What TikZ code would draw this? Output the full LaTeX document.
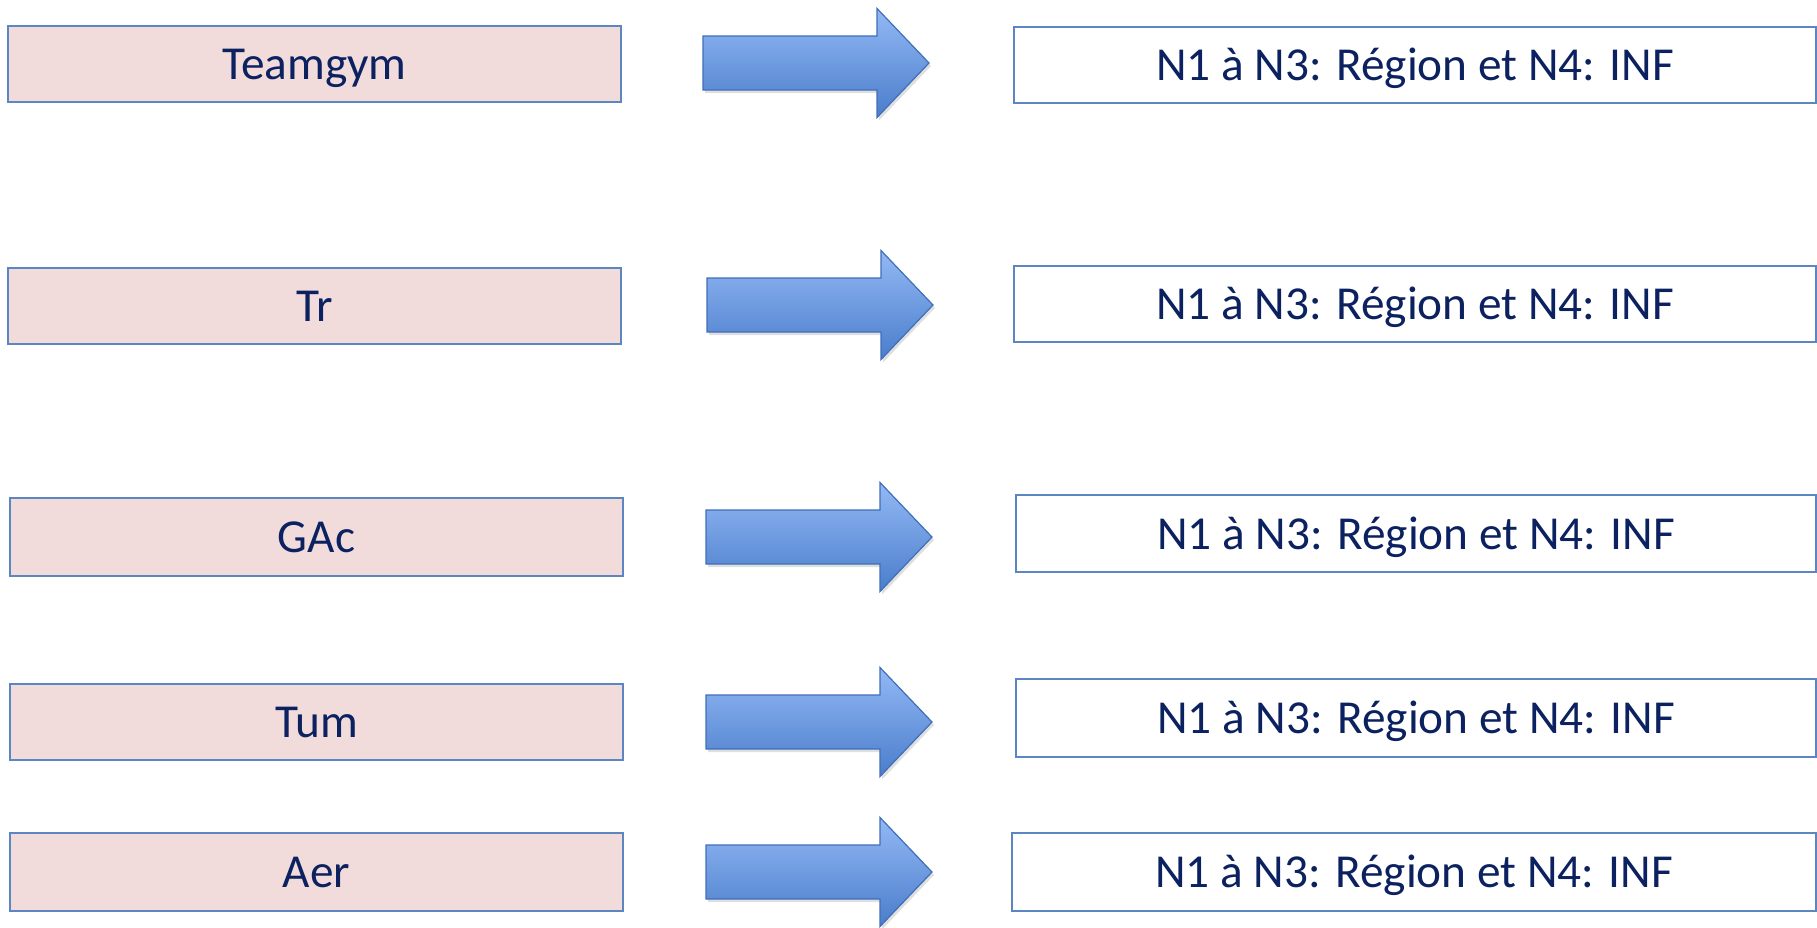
\documentclass[tikz,border=0pt]{standalone}
\usepackage{fontspec}
\setmainfont{Carlito}
\usetikzlibrary{shadows}
\definecolor{boxline}{HTML}{5B86C2}
\definecolor{pinkfill}{HTML}{F2DCDB}
\definecolor{txt}{HTML}{0B2160}
\definecolor{arrtop}{HTML}{93B9F5}
\definecolor{arrbot}{HTML}{4A7DCB}
\definecolor{arrline}{HTML}{3F6FB8}
\tikzset{
  srcbox/.style={draw=boxline, line width=1.4pt, fill=pinkfill, minimum width=613pt, minimum height=76pt, inner sep=0pt, text height=31pt, text depth=0pt, text=txt, font=\fontsize{47.3}{56}\selectfont},
  dstbox/.style={draw=boxline, line width=1.4pt, fill=white, minimum width=802pt, minimum height=76pt, inner sep=0pt, text height=31pt, text depth=0pt, text=txt, font=\fontsize{47.3}{56}\selectfont},
  fatarrow/.style={draw=arrline, line width=1.2pt, top color=arrtop, bottom color=arrbot, line join=miter,
    drop shadow={opacity=0.25, shadow xshift=2pt, shadow yshift=-3pt}}
}
\newcommand{\myarrow}[3]{% name, shaft left x, centre y
  \coordinate (#1) at (#2,#3);
  \path[fatarrow] (#2,#3-27) -- ++(174,0) -- ++(0,-27.5) -- (#2+226,#3) -- (#2+174,#3+54.5) -- ++(0,-27.5) -- (#2,#3+27) -- cycle;
}
\begin{document}
\begin{tikzpicture}[x=1pt,y=-1pt]
\useasboundingbox (0,0) rectangle (1817,927);
% left boxes
\node[srcbox] (s1) at (314.5,64) {Teamgym};
\node[srcbox] (s2) at (314.5,306) {Tr};
\node[srcbox, minimum height=78pt] (s3) at (316.5,537) {GAc};
\node[srcbox] (s4) at (316.5,722) {Tum};
\node[srcbox, minimum height=78pt] (s5) at (316.5,872) {Aer};
% right boxes
\node[dstbox] (d1) at (1415,65) {N1 à N3: Région et N4: INF};
\node[dstbox] (d2) at (1415,304) {N1 à N3: Région et N4: INF};
\node[dstbox, minimum width=800pt, minimum height=77pt] (d3) at (1416,533.5) {N1 à N3: Région et N4: INF};
\node[dstbox, minimum width=800pt, minimum height=78pt] (d4) at (1416,718) {N1 à N3: Région et N4: INF};
\node[dstbox, minimum width=804pt, minimum height=78pt] (d5) at (1414,872) {N1 à N3: Région et N4: INF};
% arrows
\myarrow{a1}{703}{63}
\myarrow{a2}{707}{305}
\myarrow{a3}{706}{537}
\myarrow{a4}{706}{722}
\myarrow{a5}{706}{872}
\end{tikzpicture}
\end{document}
